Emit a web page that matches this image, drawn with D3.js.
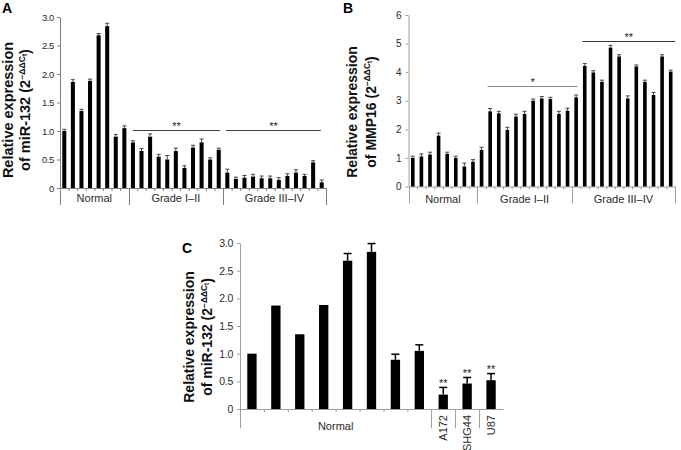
<!DOCTYPE html>
<html><head><meta charset="utf-8">
<script src="https://cdn.jsdelivr.net/npm/d3@7"></script>
<style>body{margin:0;background:#fff}svg{display:block}</style>
</head><body><svg id="chart" width="681" height="450"></svg>
<script>
// ---------- DATA ----------
const groupNames = ["Normal", "Grade I–II", "Grade III–IV"];
const groupSizes = [8, 11, 12];

const aValues = [1.0, 1.86, 1.35, 1.88, 2.68, 2.84, 0.9, 1.05,
  0.8, 0.65, 0.9, 0.55, 0.5, 0.65, 0.35, 0.71, 0.8, 0.5, 0.67,
  0.27, 0.16, 0.18, 0.2, 0.17, 0.17, 0.14, 0.21, 0.27, 0.21, 0.45, 0.1];
const aErrors = [0.03, 0.04, 0.03, 0.03, 0.03, 0.05, 0.04, 0.04,
  0.03, 0.04, 0.05, 0.04, 0.07, 0.05, 0.04, 0.04, 0.06, 0.03, 0.03,
  0.06, 0.03, 0.04, 0.04, 0.04, 0.04, 0.04, 0.04, 0.05, 0.03, 0.03, 0.04];
const aTicks = [0, 0.5, 1, 1.5, 2, 2.5, 3];
const aTickLabels = ["0", "0.5", "1.0", "1.5", "2.0", "2.5", "3.0"];
const aSigLabels = ["**", "**"];
const aSigLevels = [1.02, 1.02];
const aSigFrom = [8.5, 19.35];   // in bar-index units
const aSigTo = [18.65, 30.4];

const bValues = [1.0, 1.05, 1.12, 1.78, 1.14, 1.0, 0.7, 0.87,
  1.28, 2.63, 2.56, 1.98, 2.45, 2.54, 3.0, 3.08, 3.06, 2.54, 2.65,
  3.12, 4.22, 3.99, 3.66, 4.86, 4.55, 3.08, 4.2, 3.66, 3.2, 4.55, 4.02];
const bErrors = [0.06, 0.09, 0.08, 0.09, 0.06, 0.06, 0.12, 0.07,
  0.09, 0.1, 0.07, 0.09, 0.08, 0.09, 0.06, 0.07, 0.06, 0.09, 0.09,
  0.08, 0.08, 0.06, 0.06, 0.08, 0.06, 0.09, 0.05, 0.06, 0.09, 0.06, 0.05];
const bTicks = [0, 1, 2, 3, 4, 5, 6];
const bTickLabels = ["0", "1", "2", "3", "4", "5", "6"];
const bSigLabels = ["*", "**"];
const bSigLevels = [3.53, 5.08];
const bSigFrom = [9.2, 20.25];
const bSigTo = [19.66, 31];

const cGroupNames = ["Normal", "A172", "SHG44", "U87"];
const cGroupSizes = [8, 1, 1, 1];
const cValues = [1.0, 1.87, 1.35, 1.88, 2.68, 2.84, 0.89, 1.05, 0.26, 0.46, 0.52];
const cErrors = [0, 0, 0, 0, 0.13, 0.15, 0.1, 0.11, 0.13, 0.11, 0.12];
const cSigLabels = ["", "", "", "", "", "", "", "", "**", "**", "**"];
const cTicks = [0, 0.5, 1, 1.5, 2, 2.5, 3];
const cTickLabels = ["0", "0.5", "1.0", "1.5", "2.0", "2.5", "3.0"];

// ---------- DRAWING ----------
const FONT = '"Liberation Sans", Arial, Helvetica, sans-serif';
const svg = d3.select("#chart").style("font-family", FONT);

function drawPanel(cfg) {
  const g = svg.append("g");
  const n = cfg.values.length;
  const y = d3.scaleLinear().domain([cfg.ticks[0], cfg.ticks[cfg.ticks.length - 1]]).range(cfg.yRange);
  const xi = d3.scaleLinear().domain([0, n]).range(cfg.xRange);
  const xb = d3.scaleBand().domain(d3.range(n)).range(cfg.xRange)
    .paddingInner(cfg.pad).paddingOuter(cfg.pad / 2);
  const y0 = y(0);

  // group boundaries
  const bounds = [0];
  let acc = 0;
  cfg.sizes.forEach(s => { acc += s; bounds.push(acc); });
  const sepIdx = cfg.sepIdx || bounds;
  const minor = d3.range(1, n).filter(i => !bounds.includes(i));

  // x axis (baseline + minor ticks)
  const xa = g.append("g").attr("transform", `translate(0,${y0})`)
    .call(d3.axisBottom(xi).tickValues(minor).tickFormat("").tickSize(3).tickSizeOuter(0));
  xa.select(".domain").attr("stroke", cfg.axisColor);
  xa.selectAll(".tick line").attr("stroke", cfg.axisColor);

  // separators
  g.selectAll("line.sep").data(sepIdx).join("line").attr("class", "sep")
    .attr("x1", d => Math.round(xi(d)) + 0.5).attr("x2", d => Math.round(xi(d)) + 0.5)
    .attr("y1", y0).attr("y2", y0 + cfg.sepLen)
    .attr("stroke", cfg.axisColor).attr("stroke-width", 1);

  // y axis
  const ya = g.append("g").attr("transform", `translate(${cfg.xRange[0]},0)`)
    .call(d3.axisLeft(y).tickValues(cfg.ticks).tickFormat((d, i) => cfg.tickLabels[i])
      .tickSize(3).tickSizeOuter(0).tickPadding(cfg.tickPad));
  ya.select(".domain").attr("stroke", cfg.axisColor);
  ya.selectAll(".tick line").attr("stroke", cfg.axisColor);
  ya.selectAll(".tick text").attr("fill", "#2a2a2a")
    .style("font-size", cfg.tickFont + "px").style("font-family", FONT)
    .style("letter-spacing", cfg.tickSpacing + "px");

  // bars
  g.selectAll("rect.bar").data(cfg.values).join("rect").attr("class", "bar")
    .attr("x", (d, i) => xb(i)).attr("width", xb.bandwidth())
    .attr("y", d => y(d)).attr("height", d => y0 - y(d)).attr("fill", "#000");

  // error bars
  const eb = g.selectAll("g.err").data(cfg.values.map((v, i) => ({ v, e: cfg.errors[i], i })).filter(d => d.e > 0))
    .join("g").attr("class", "err");
  eb.append("line")
    .attr("x1", d => xb(d.i) + xb.bandwidth() / 2).attr("x2", d => xb(d.i) + xb.bandwidth() / 2)
    .attr("y1", d => y(d.v)).attr("y2", d => y(d.v + d.e))
    .attr("stroke", cfg.errColor).attr("stroke-width", cfg.errW);
  eb.append("line")
    .attr("x1", d => xb(d.i) + xb.bandwidth() / 2 - cfg.capW / 2)
    .attr("x2", d => xb(d.i) + xb.bandwidth() / 2 + cfg.capW / 2)
    .attr("y1", d => y(d.v + d.e)).attr("y2", d => y(d.v + d.e))
    .attr("stroke", cfg.errColor).attr("stroke-width", cfg.errW);

  // group labels
  if (cfg.groupNames) {
    g.selectAll("text.grp").data(cfg.groupNames).join("text").attr("class", "grp")
      .attr("x", (d, i) => xi((bounds[i] + bounds[i + 1]) / 2))
      .attr("y", y0 + cfg.labelOff)
      .attr("text-anchor", "middle").attr("fill", "#2a2a2a")
      .style("font-size", "11px").text(d => d);
  }
  return { g, y, xi, xb, y0 };
}

function yTitle(cx1, cx2, cy, size, gene) {
  const cap = 0.36 * size;
  svg.append("text").attr("transform", `translate(${cx1 + cap},${cy}) rotate(-90)`)
    .attr("text-anchor", "middle").style("font-size", size + "px").style("font-weight", "bold")
    .attr("fill", "#111").text("Relative expression");
  const t = svg.append("text").attr("transform", `translate(${cx2 + cap},${cy}) rotate(-90)`)
    .attr("text-anchor", "middle").style("font-size", size + "px").style("font-weight", "bold")
    .attr("fill", "#111");
  t.append("tspan").text(`of ${gene} (2`);
  t.append("tspan").attr("dy", -5.5).style("font-size", (size * 0.6) + "px").text("−ΔΔC");
  t.append("tspan").attr("dy", 2).style("font-size", (size * 0.45) + "px").text("t");
  t.append("tspan").attr("dy", 3.5).text(")");
}

function sigLines(p, labels, levels, from, to, colors) {
  labels.forEach((lab, i) => {
    const yy = Math.round(p.y(levels[i])) + 0.5;
    const x1 = p.xi(from[i]), x2 = p.xi(to[i]);
    p.g.append("line").attr("x1", x1).attr("x2", x2).attr("y1", yy).attr("y2", yy)
      .attr("stroke", colors[i]).attr("stroke-width", 1.2);
    p.g.append("text").attr("x", (x1 + x2) / 2).attr("y", yy - 0.5).attr("text-anchor", "middle")
      .style("font-size", "11px").attr("fill", "#222").text(lab);
  });
}

// Panel A
const pA = drawPanel({
  values: aValues, errors: aErrors, sizes: groupSizes, groupNames: groupNames,
  ticks: aTicks, tickLabels: aTickLabels, yRange: [188, 17], xRange: [60, 326],
  pad: 0.53, axisColor: "#808080", tickFont: 9.5, tickSpacing: -0.4, tickPad: 3,
  errColor: "#444", errW: 1, capW: 4, sepLen: 17, labelOff: 13.5
});
sigLines(pA, aSigLabels, aSigLevels, aSigFrom, aSigTo, ["#444", "#444"]);

// Panel B
const pB = drawPanel({
  values: bValues, errors: bErrors, sizes: groupSizes, groupNames: groupNames,
  ticks: bTicks, tickLabels: bTickLabels, yRange: [186.5, 15], xRange: [408.5, 675],
  pad: 0.58, axisColor: "#a0a0a0", tickFont: 10, tickSpacing: 0, tickPad: 4,
  errColor: "#444", errW: 1, capW: 4, sepLen: 17, labelOff: 16.8
});
sigLines(pB, bSigLabels, bSigLevels, bSigFrom, bSigTo, ["#8a8a8a", "#333"]);

// Panel C
const pC = drawPanel({
  values: cValues, errors: cErrors, sizes: cGroupSizes, groupNames: null,
  ticks: cTicks, tickLabels: cTickLabels, yRange: [409, 243], xRange: [240, 503],
  pad: 0.61, axisColor: "#a0a0a0", tickFont: 10.5, tickSpacing: -0.3, tickPad: 4,
  errColor: "#000", errW: 1.5, capW: 8, sepLen: 19, labelOff: 21,
  sepIdx: [0, 8, 9, 10]
});
// C labels
pC.g.append("text").attr("x", pC.xi(4)).attr("y", pC.y0 + 21).attr("text-anchor", "middle")
  .attr("fill", "#2a2a2a").style("font-size", "11px").text(cGroupNames[0]);
cGroupNames.slice(1).forEach((nm, k) => {
  const cx = pC.xb(8 + k) + pC.xb.bandwidth() / 2;
  pC.g.append("text").attr("transform", `translate(${cx + 4},${pC.y0 + 6}) rotate(-90)`)
    .attr("text-anchor", "end").attr("fill", "#2a2a2a").style("font-size", "11px").text(nm);
});
// C significance marks
pC.g.selectAll("text.sig").data(cValues.map((v, i) => ({ v, e: cErrors[i], s: cSigLabels[i], i })).filter(d => d.s))
  .join("text").attr("class", "sig")
  .attr("x", d => pC.xb(d.i) + pC.xb.bandwidth() / 2)
  .attr("y", d => pC.y(d.v + d.e) - 0.5)
  .attr("text-anchor", "middle").attr("fill", "#222").style("font-size", "11px").text(d => d.s);

// Titles
yTitle(8, 25, 110, 14.5, "miR-132");
yTitle(351.5, 370.5, 112, 14, "MMP16");
yTitle(188.5, 207, 337, 14, "miR-132");

// Panel letters
[["A", 2, 13], ["B", 343, 13], ["C", 182, 253]].forEach(([t, x, yy]) => {
  svg.append("text").attr("x", x).attr("y", yy).style("font-size", "14px")
    .style("font-weight", "bold").attr("fill", "#000").text(t);
});
</script>
</body></html>
